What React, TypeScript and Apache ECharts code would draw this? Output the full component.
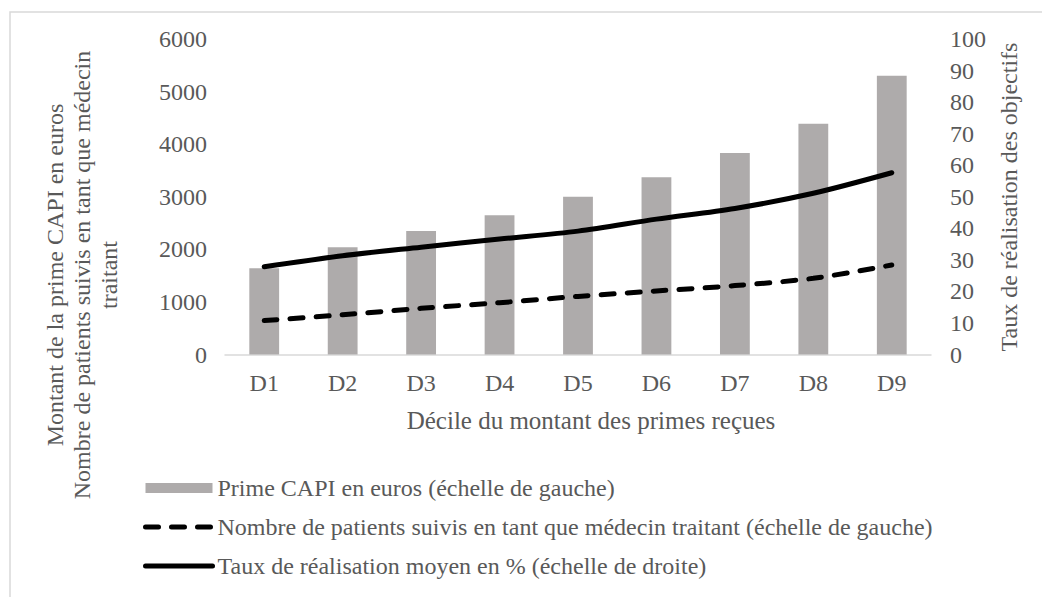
import React, { useEffect, useRef } from "react";
import * as echarts from "echarts";

const categories = ["D1", "D2", "D3", "D4", "D5", "D6", "D7", "D8", "D9"];
const primeCapi = [1640, 2040, 2350, 2650, 3000, 3370, 3830, 4390, 5300];
const nbPatients = [645, 755, 878, 985, 1105, 1208, 1310, 1449, 1702];
const tauxRealisation = [27.8, 31.3, 34.0, 36.6, 39.1, 42.9, 46.3, 51.1, 57.6];

const seriesNames = [
  "Prime CAPI en euros (échelle de gauche)",
  "Nombre de patients suivis en tant que médecin traitant (échelle de gauche)",
  "Taux de réalisation moyen en % (échelle de droite)",
];

const FONT = '"Liberation Serif", "Times New Roman", serif';
const TXT = "#595959";

export default function App() {
  const ref = useRef<HTMLDivElement>(null);
  useEffect(() => {
    if (!ref.current) return;
    const chart = echarts.init(ref.current, undefined, { renderer: "svg" });
    chart.setOption({
      animation: false,
      backgroundColor: "#ffffff",
      textStyle: { fontFamily: FONT, color: TXT },
      grid: { left: 225, right: 111, top: 39, bottom: 242.5 },
      graphic: [
        {
          type: "rect",
          shape: { x: 10, y: 12, width: 1200, height: 800 },
          style: { fill: "none", stroke: "#d9d9d9", lineWidth: 1.5 },
          silent: true,
        },
        {
          type: "text",
          x: 82,
          y: 275,
          rotation: Math.PI / 2,
          style: {
            text: "Montant de la prime CAPI en euros\nNombre de patients suivis en tant que médecin\ntraitant",
            fontFamily: FONT,
            fontSize: 24,
            lineHeight: 27,
            fill: TXT,
            align: "center",
            verticalAlign: "middle",
          },
        },
        {
          type: "text",
          x: 1009,
          y: 197,
          rotation: Math.PI / 2,
          style: {
            text: "Taux de réalisation des objectifs",
            fontFamily: FONT,
            fontSize: 24,
            fill: TXT,
            align: "center",
            verticalAlign: "middle",
          },
        },
        {
          type: "text",
          x: 591,
          y: 420,
          style: {
            text: "Décile du montant des primes reçues",
            fontFamily: FONT,
            fontSize: 25,
            fill: TXT,
            align: "center",
            verticalAlign: "middle",
          },
        },
      ],
      legend: {
        orient: "vertical",
        left: 138,
        top: 471,
        itemWidth: 67,
        itemHeight: 10,
        itemGap: 15,
        textStyle: { fontFamily: FONT, fontSize: 24, lineHeight: 24, color: TXT },
        data: [
          { name: seriesNames[0], icon: "rect" },
          {
            name: seriesNames[1],
            itemStyle: { opacity: 0 },
            lineStyle: { color: "#000000", width: 5, type: [13, 13], cap: "round" },
          },
          {
            name: seriesNames[2],
            itemStyle: { opacity: 0 },
            lineStyle: { color: "#000000", width: 5, cap: "round" },
          },
        ],
      },
      xAxis: {
        type: "category",
        data: categories,
        axisLine: { lineStyle: { color: "#d9d9d9", width: 1.5 } },
        axisTick: { show: false },
        axisLabel: { color: TXT, fontFamily: FONT, fontSize: 24, margin: 16 },
      },
      yAxis: [
        {
          type: "value",
          min: 0,
          max: 6000,
          interval: 1000,
          splitLine: { show: false },
          axisLine: { show: false },
          axisTick: { show: false },
          axisLabel: {
            color: TXT,
            fontFamily: FONT,
            fontSize: 24,
            margin: 18,
            formatter: (v: number) => String(v),
          },
        },
        {
          type: "value",
          min: 0,
          max: 100,
          interval: 10,
          position: "right",
          splitLine: { show: false },
          axisLine: { show: false },
          axisTick: { show: false },
          axisLabel: { color: TXT, fontFamily: FONT, fontSize: 24, margin: 19 },
        },
      ],
      series: [
        {
          name: seriesNames[0],
          type: "bar",
          data: primeCapi,
          barWidth: "38%",
          itemStyle: { color: "#aeabab" },
          yAxisIndex: 0,
        },
        {
          name: seriesNames[1],
          type: "line",
          data: nbPatients,
          yAxisIndex: 0,
          smooth: 0.3,
          symbol: "none",
          lineStyle: { color: "#000000", width: 5, type: [13, 13], cap: "round" },
          itemStyle: { color: "#000000" },
        },
        {
          name: seriesNames[2],
          type: "line",
          data: tauxRealisation,
          yAxisIndex: 1,
          smooth: 0.3,
          symbol: "none",
          lineStyle: { color: "#000000", width: 5, cap: "round" },
          itemStyle: { color: "#000000" },
        },
      ],
    });
    return () => chart.dispose();
  }, []);
  return (
    <div
      ref={ref}
      style={{ position: "absolute", left: 0, top: 0, width: 1042, height: 597 }}
    />
  );
}
